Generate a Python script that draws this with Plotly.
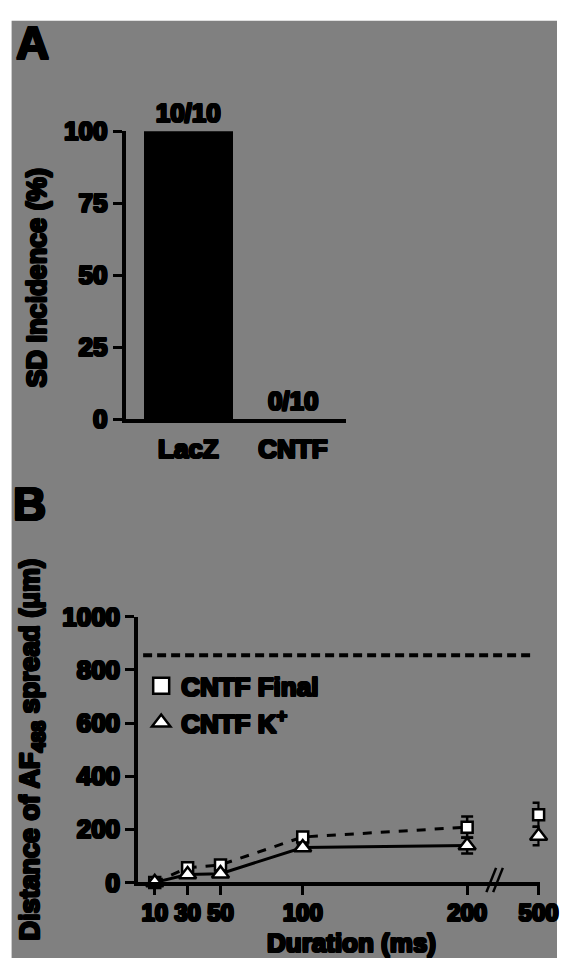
import plotly.graph_objects as go

# ---------------- data ----------------
groups = ["LacZ", "CNTF"]
incidence = [100, 0]
incidence_labels = ["10/10", "0/10"]
a_yticks = [0, 25, 50, 75, 100]

durations = [10, 30, 50, 100, 200]
final_vals = [0, 55, 66, 171, 208]
final_err = [5, 8, 10, 12, 40]
kplus_vals = [0, 30, 33, 131, 139]
kplus_err = [4, 6, 8, 12, 30]
long_duration = [500]
final_long = [255]
final_long_err = [45]
kplus_long = [175]
kplus_long_err = [35]
sd_distance = [855]
b_yticks = [0, 200, 400, 600, 800, 1000]

W, H = 576, 973
FONT = "Liberation Sans"
SH = ("1px 0 0 #000, -1px 0 0 #000, 0 1px 0 #000, 0 -1px 0 #000, "
      "1px 1px 0 #000, -1px -1px 0 #000, 1px -1px 0 #000, -1px 1px 0 #000")


def px(x):
    return x / W


def py(y):
    return 1 - y / H


def f(size):
    return dict(family=FONT, size=size, color="black", weight="bold", shadow=SH)


fig = go.Figure()

# ---------------- panel A ----------------
fig.add_trace(go.Bar(
    x=groups, y=incidence, width=0.85, marker=dict(color="black", line=dict(width=0)),
    text=incidence_labels, textposition="outside", textfont=f(26), cliponaxis=False,
    xaxis="x", yaxis="y", showlegend=False))

# ---------------- panel B ----------------
mk_sq = dict(symbol="square", size=11, color="white", line=dict(color="black", width=2.5))
mk_tr = dict(symbol="triangle-up", size=15, color="white", line=dict(color="black", width=2.5))
eb = dict(color="black", thickness=2.5, width=6)

fig.add_trace(go.Scatter(
    x=durations, y=final_vals, mode="lines+markers", marker=mk_sq,
    line=dict(color="black", width=3, dash="dash"),
    error_y=dict(type="data", array=final_err, **eb),
    xaxis="x2", yaxis="y2", showlegend=False, cliponaxis=False))
fig.add_trace(go.Scatter(
    x=durations, y=kplus_vals, mode="lines+markers", marker=mk_tr,
    line=dict(color="black", width=3),
    error_y=dict(type="data", array=kplus_err, **eb),
    xaxis="x2", yaxis="y2", showlegend=False, cliponaxis=False))
fig.add_trace(go.Scatter(
    x=long_duration, y=final_long, mode="markers", marker=mk_sq,
    error_y=dict(type="data", array=final_long_err, **eb),
    xaxis="x3", yaxis="y2", showlegend=False, cliponaxis=False))
fig.add_trace(go.Scatter(
    x=long_duration, y=kplus_long, mode="markers", marker=mk_tr,
    error_y=dict(type="data", array=kplus_long_err, **eb),
    xaxis="x3", yaxis="y2", showlegend=False, cliponaxis=False))

# legend-only entries (marker only, like the reference)
fig.add_trace(go.Scatter(x=[None], y=[None], mode="markers", name="CNTF Final",
                         marker=dict(mk_sq, size=16), xaxis="x2", yaxis="y2"))
fig.add_trace(go.Scatter(x=[None], y=[None], mode="markers", name="CNTF K<sup>+</sup>",
                         marker=dict(mk_tr, size=20), xaxis="x2", yaxis="y2"))

axis_common = dict(showline=True, linecolor="black", linewidth=4, showgrid=False,
                   zeroline=False, tickfont=f(26), tickcolor="black", fixedrange=True)

fig.update_layout(
    width=W, height=H, margin=dict(l=0, r=0, t=0, b=0),
    paper_bgcolor="white", plot_bgcolor="rgba(0,0,0,0)",
    font=dict(family=FONT, color="black"),
    bargap=0,
    xaxis=dict(axis_common, domain=[px(130), px(358)], range=[-0.6, 1.51],
               anchor="y", ticks="", ticklabelstandoff=4),
    yaxis=dict(axis_common, domain=[py(417), py(120)], range=[0, 100], anchor="x",
               tickvals=a_yticks, ticks="outside", ticklen=9, tickwidth=3),
    xaxis2=dict(axis_common, domain=[px(143), px(512)], range=[0, 217], anchor="y2",
                tickvals=durations, ticks="outside", ticklen=9, tickwidth=3,
                ticklabelstandoff=-3, tickfont=f(24)),
    xaxis3=dict(axis_common, domain=[px(512), px(558)], range=[473.5, 500.6], anchor="y2",
                tickvals=long_duration, ticks="outside", ticklen=9, tickwidth=3,
                ticklabelstandoff=-3, ticklabeloverflow="allow", tickfont=f(24)),
    yaxis2=dict(axis_common, domain=[py(895), py(621)], range=[0, 1000], anchor="x2",
                tickvals=b_yticks, ticks="outside", ticklen=9, tickwidth=3),
    legend=dict(x=px(146), y=py(668), xanchor="left", yanchor="top",
                bgcolor="rgba(0,0,0,0)", font=f(26), itemsizing="trace",
                tracegroupgap=0),
)

shapes = [
    # gray panel background
    dict(type="rect", xref="paper", yref="paper", x0=px(12), x1=1, y0=0, y1=py(6),
         fillcolor="#808080", line=dict(width=0), layer="below"),
    # SD spread distance (dashed reference line)
    dict(type="line", xref="paper", yref="y2", x0=px(148), x1=px(552),
         y0=sd_distance[0], y1=sd_distance[0],
         line=dict(color="black", width=4, dash="9px,5px")),
    # axis break marks
    dict(type="line", xref="paper", yref="paper", x0=px(503), x1=px(513),
         y0=py(905), y1=py(880), line=dict(color="black", width=2.5)),
    dict(type="line", xref="paper", yref="paper", x0=px(510), x1=px(520),
         y0=py(905), y1=py(880), line=dict(color="black", width=2.5)),
]
fig.update_layout(shapes=shapes)

annotations = [
    dict(text="A", x=px(34), y=py(29), font=f(46)),
    dict(text="B", x=px(31), y=py(505), font=f(46)),
    dict(text="SD Incidence (%)", x=px(38), y=py(271), textangle=-90, font=f(27)),
    dict(text="Distance of AF<sub>488</sub> spread (μm)", x=px(33), y=py(758),
         textangle=-90, font=f(27)),
    dict(text="Duration (ms)", x=px(363), y=py(958), font=f(26)),
]
for a in annotations:
    a.update(xref="paper", yref="paper", showarrow=False, xanchor="center", yanchor="middle")
fig.update_layout(annotations=annotations)

fig.write_html("out.html", config=dict(responsive=False, displayModeBar=False),
               post_script="document.body.style.margin='0';")
